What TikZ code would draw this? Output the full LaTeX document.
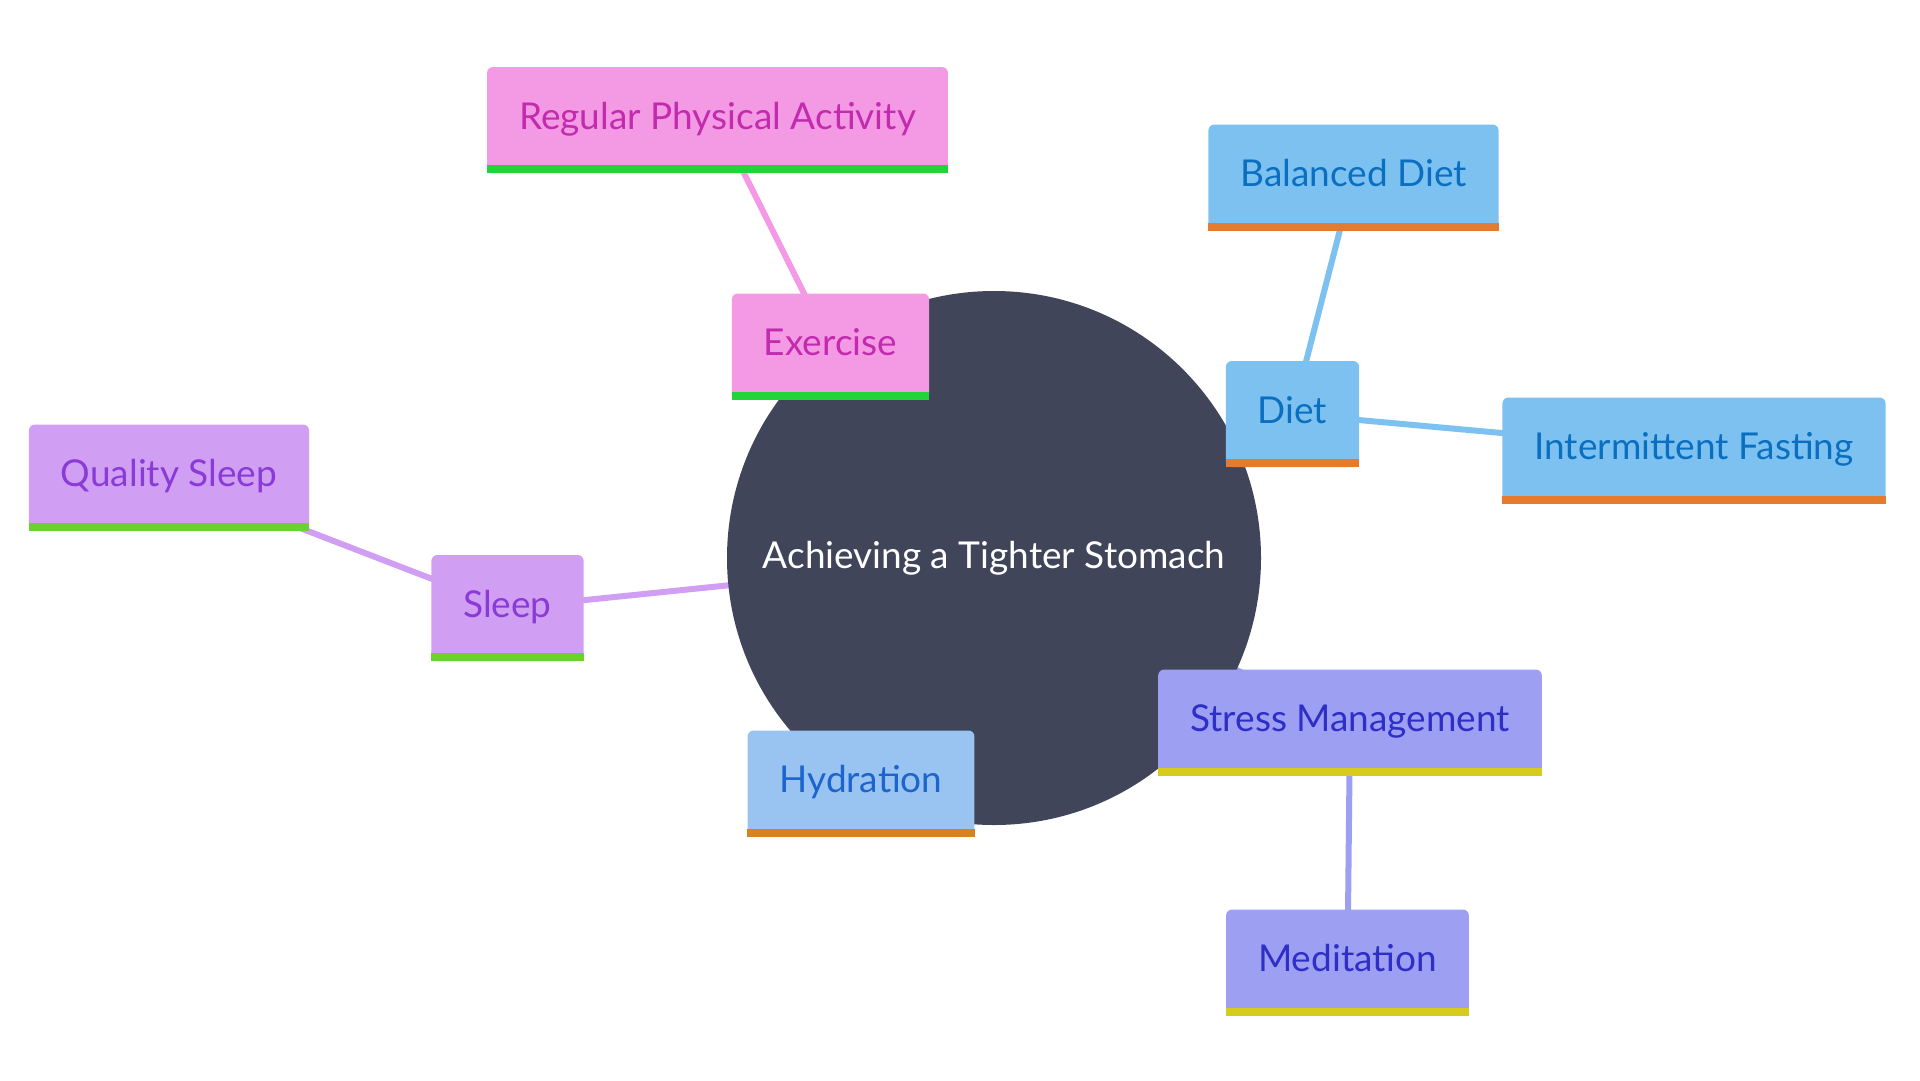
\documentclass[tikz,border=0pt]{standalone}
\usepackage{fontspec}
\setmainfont{Lato}
\usetikzlibrary{backgrounds}

\definecolor{rootfill}{HTML}{414559}
\definecolor{exfill}{HTML}{F49AE4}
\definecolor{extext}{HTML}{C22BAE}
\definecolor{exbar}{HTML}{20D43A}
\definecolor{dietfill}{HTML}{7DC1F1}
\definecolor{diettext}{HTML}{0B6FC0}
\definecolor{dietbar}{HTML}{E77B2D}
\definecolor{sleepfill}{HTML}{D09EF3}
\definecolor{sleeptext}{HTML}{8A3AD6}
\definecolor{sleepbar}{HTML}{6BD22B}
\definecolor{hydfill}{HTML}{99C3F1}
\definecolor{hydtext}{HTML}{1C64CE}
\definecolor{hydbar}{HTML}{D6821F}
\definecolor{stressfill}{HTML}{9C9FF2}
\definecolor{stresstext}{HTML}{2E2FC6}
\definecolor{stressbar}{HTML}{D7CC1E}

\tikzset{
	topic/.style={rectangle, rounded corners=6pt, minimum height=106pt,
		inner xsep=32pt, inner ysep=0pt, text height=27pt, text depth=9pt,
		font=\fontsize{37}{44}\selectfont},
	exbox/.style={topic, fill=exfill, text=extext},
	dietbox/.style={topic, fill=dietfill, text=diettext},
	sleepbox/.style={topic, fill=sleepfill, text=sleeptext},
	hydbox/.style={topic, fill=hydfill, text=hydtext},
	stressbox/.style={topic, fill=stressfill, text=stresstext},
	link/.style={line width=6pt},
}

\begin{document}
\begin{tikzpicture}[x=1pt, y=-1pt]
	\useasboundingbox (0,0) rectangle (1920,1080);
	
	\node[circle, fill=rootfill, minimum size=534pt, inner sep=0pt, text=white,
		font=\fontsize{37}{44}\selectfont] (root) at (994,558) {Achieving a Tighter Stomach};
	
	\node[exbox] (exercise) at (830.5,346.5) {Exercise};
	\node[exbox] (activity) at (717.5,120) {Regular Physical Activity};
	\node[dietbox] (diet) at (1292.5,414) {Diet};
	\node[dietbox] (balanced) at (1353.5,177.5) {Balanced Diet};
	\node[dietbox] (fasting) at (1694,450.5) {Intermittent Fasting};
	\node[sleepbox] (sleep) at (507.5,608) {Sleep};
	\node[sleepbox] (quality) at (169,477.5) {Quality Sleep};
	\node[hydbox] (hydration) at (861,783.5) {Hydration};
	\node[stressbox] (stress) at (1350,722.5) {Stress Management};
	\node[stressbox] (meditation) at (1347.5,962.5) {Meditation};
	
	% bottom bars
	\foreach \n/\c in {exercise/exbar, activity/exbar, diet/dietbar, balanced/dietbar,
		fasting/dietbar, sleep/sleepbar, quality/sleepbar, hydration/hydbar,
		stress/stressbar, meditation/stressbar}
		\fill[\c] (\n.south west) rectangle ([yshift=8pt]\n.south east);
	
	\begin{scope}[on background layer]
		\foreach \a/\b/\c in {root/exercise/exfill, exercise/activity/exfill,
			root/diet/dietfill, diet/balanced/dietfill, diet/fasting/dietfill,
			root/sleep/sleepfill, sleep/quality/sleepfill, root/hydration/hydfill,
			root/stress/stressfill, stress/meditation/stressfill}
			\draw[link, \c] (\a.center) -- (\b.center);
	\end{scope}
\end{tikzpicture}
\end{document}
